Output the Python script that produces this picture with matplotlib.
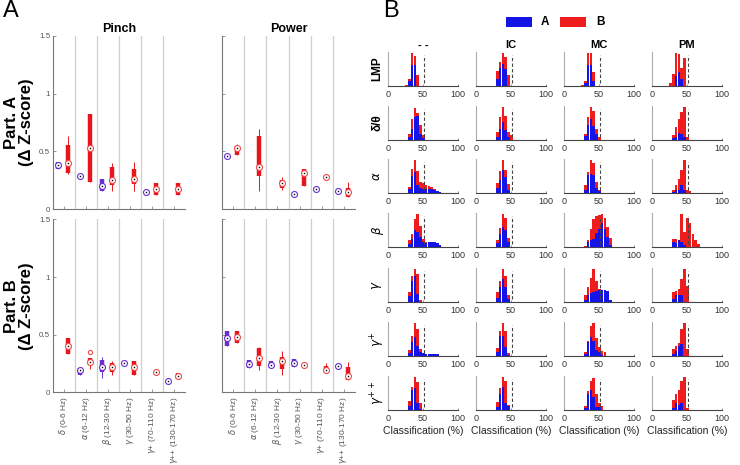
import numpy as np
import matplotlib
matplotlib.use('Agg')
import matplotlib.pyplot as plt
from matplotlib.patches import Rectangle

plt.rcParams['font.family'] = ['Liberation Sans', 'DejaVu Sans']

# ---------------- panel A data: (median, q1, q3, whisker low, whisker high) per band
bands = [r'$\delta$ (0-6 Hz)', r'$\alpha$ (6-12 Hz)', r'$\beta$ (12-30 Hz)',
         r'$\gamma$ (30-50 Hz)', r'$\gamma$+ (70-110 Hz)', r'$\gamma$++ (130-170 Hz)']

pinch_partA_A = [(0.378, 0.35, 0.41, 0.35, 0.41),
                 (0.29, 0.29, 0.29, 0.29, 0.29),
                 (0.196, 0.16, 0.26, 0.16, 0.26),
                 None,
                 (0.144, 0.144, 0.144, 0.144, 0.144),
                 None]
pinch_partA_B = [(0.40, 0.31, 0.557, 0.30, 0.635),
                 (0.53, 0.234, 0.825, 0.234, 0.825),
                 (0.25, 0.205, 0.36, 0.16, 0.40),
                 (0.262, 0.216, 0.346, 0.153, 0.407),
                 (0.173, 0.118, 0.225, 0.118, 0.225),
                 (0.173, 0.124, 0.225, 0.124, 0.225)]
power_partA_A = [(0.456, 0.456, 0.456, 0.456, 0.456),
                 None,
                 None,
                 (0.13, 0.13, 0.13, 0.13, 0.13),
                 (0.176, 0.176, 0.176, 0.176, 0.176),
                 (0.16, 0.16, 0.16, 0.16, 0.16)]
power_partA_B = [(0.525, 0.465, 0.55, 0.465, 0.56),
                 (0.366, 0.29, 0.635, 0.16, 0.69),
                 (0.222, 0.179, 0.254, 0.167, 0.277),
                 (0.314, 0.20, 0.346, 0.20, 0.346),
                 (0.28, 0.28, 0.28, 0.28, 0.28),
                 (0.147, 0.104, 0.18, 0.104, 0.237)]
pinch_partB_A = [None,
                 (0.187, 0.149, 0.213, 0.149, 0.213),
                 (0.216, 0.17, 0.279, 0.12, 0.307),
                 (0.256, 0.256, 0.256, 0.256, 0.256),
                 None,
                 (0.10, 0.10, 0.10, 0.10, 0.10)]
pinch_partB_B = [(0.40, 0.33, 0.466, 0.33, 0.466),
                 (0.259, 0.236, 0.293, 0.198, 0.30),
                 (0.216, 0.178, 0.256, 0.149, 0.273),
                 (0.216, 0.152, 0.273, 0.152, 0.273),
                 (0.172, 0.172, 0.172, 0.172, 0.172),
                 (0.141, 0.112, 0.164, 0.112, 0.164)]
pinch_partB_B_outliers = {1: [0.345]}
power_partB_A = [(0.466, 0.40, 0.53, 0.40, 0.53),
                 (0.241, 0.21, 0.279, 0.21, 0.279),
                 (0.236, 0.21, 0.27, 0.21, 0.27),
                 (0.256, 0.221, 0.29, 0.221, 0.29),
                 None,
                 (0.23, 0.23, 0.23, 0.23, 0.23)]
power_partB_B = [(0.477, 0.43, 0.53, 0.43, 0.53),
                 (0.299, 0.227, 0.385, 0.187, 0.394),
                 (0.27, 0.198, 0.307, 0.149, 0.356),
                 (0.236, 0.236, 0.236, 0.236, 0.236),
                 (0.187, 0.17, 0.227, 0.17, 0.25),
                 (0.135, 0.106, 0.221, 0.106, 0.259)]

# ---------------- panel B data: histogram heights (% of tallest) per bin, one list per column
bin_centers = [26.5, 30.5, 34.5, 38.5, 42.5, 46.5, 50.5, 54.5, 58.5, 62.5, 66.5, 70.5, 74.5, 78.5]
columns = ['- -', 'IC', 'MC', 'PM']
row_labels = ['LMP', '\u03b4/\u03b8', r'$\alpha$', r'$\beta$', r'$\gamma$', r'$\gamma^{+}$', r'$\gamma^{++}$']

lmp_A = [[0, 15, 64, 64, 0], [0, 20, 54, 66, 50, 0], [0, 9, 64, 62, 15], [0, 0, 30, 42, 20, 0]]
lmp_B = [[3, 20, 100, 90, 32], [0, 45, 71, 100, 88, 32], [4, 14, 100, 100, 42], [8, 35, 100, 97, 55, 85]]
delta_A = [[0, 8, 34, 70, 72, 19, 5], [0, 10, 34, 53, 29, 10], [0, 12, 44, 63, 41, 19], [0, 5, 8, 20, 17, 10]]
delta_B = [[0, 19, 63, 97, 80, 44, 14], [0, 24, 68, 98, 73, 24, 14], [0, 17, 68, 99, 87, 34, 10], [0, 15, 40, 62, 85, 100, 10]]
alpha_A = [[0, 12, 50, 63, 24, 14, 12, 12, 12, 12, 10, 6, 3], [0, 15, 39, 68, 49, 10],
           [0, 8, 55, 58, 53, 15, 7], [0, 3, 10, 10, 24, 10]]
alpha_B = [[0, 18, 73, 100, 66, 34, 29, 24, 21, 18, 12], [0, 29, 66, 99, 70, 26],
           [0, 24, 63, 100, 89, 34, 10], [0, 8, 24, 41, 68, 100, 10, 5]]
beta_A = [[0, 10, 25, 50, 45, 30, 15, 13, 14, 15, 15, 12, 5], [0, 12, 39, 61, 51, 15],
          [0, 0, 15, 20, 25, 42, 55, 72, 55, 30, 5], [0, 15, 12, 20, 15, 5]]
beta_B = [[0, 20, 38, 83, 100, 62, 24, 15], [0, 22, 57, 100, 88, 27],
          [0, 3, 22, 55, 85, 93, 95, 100, 88, 60, 27], [0, 24, 24, 22, 98, 45, 86, 72, 40, 20, 8]]
gamma_A = [[0, 17, 64, 78, 25], [0, 12, 44, 68, 44, 8],
           [0, 7, 20, 26, 29, 34, 36, 36, 36, 34, 6], [0, 10, 22, 22, 20]]
gamma_B = [[0, 29, 78, 100, 83, 7], [0, 29, 63, 98, 78, 22],
           [0, 20, 44, 72, 100, 64, 38], [0, 29, 34, 39, 68, 98, 49]]
gplus_A = [[0, 8, 42, 56, 29, 13, 8, 6, 6, 6, 6, 6], [0, 13, 61, 61, 27, 3],
           [0, 5, 42, 58, 45, 17, 13, 3], [0, 5, 15, 30, 35]]
gplus_B = [[0, 19, 61, 100, 81, 22], [0, 25, 74, 98, 74, 8],
           [0, 13, 45, 90, 98, 54, 27, 16, 13], [0, 22, 30, 40, 80, 100, 22]]
gpp_A = [[0, 12, 61, 67, 22, 2], [0, 10, 47, 69, 20, 12],
         [0, 5, 49, 61, 39, 10, 8], [0, 5, 20, 15, 20]]
gpp_B = [[0, 27, 69, 100, 83, 22], [0, 25, 67, 98, 86, 15],
         [0, 12, 57, 88, 96, 49, 20, 12], [0, 31, 49, 60, 86, 100, 5]]

hist_A = [lmp_A, delta_A, alpha_A, beta_A, gamma_A, gplus_A, gpp_A]
hist_B = [lmp_B, delta_B, alpha_B, beta_B, gamma_B, gplus_B, gpp_B]
chance = 52

purple = '#6a2fd0'
red = '#e8161c'
red_edge = '#f04a4a'
blue = '#1414e6'
hred = '#ee1c1c'

W, H = 740, 465
fig = plt.figure(figsize=(7.4, 4.65), dpi=100)


def px_axes(x0, y0, x1, y1):
    return fig.add_axes([x0 / W, 1 - y1 / H, (x1 - x0) / W, (y1 - y0) / H])


def draw_group(ax, stats, offset, color, edge, outliers=None):
    for i, s in enumerate(stats):
        if s is None:
            continue
        x = i + 1 + offset
        med, q1, q3, lo, hi = s
        if hi > lo:
            ax.plot([x, x], [lo, hi], color=color, lw=0.7, solid_capstyle='butt', zorder=2)
        if q3 > q1:
            ax.plot([x, x], [q1, q3], color=color, lw=3.2, solid_capstyle='butt', zorder=3)
        ax.plot(x, med, 'o', ms=4.3, mfc='white', mec=edge, mew=0.8, zorder=4)
        ax.plot(x, med, 'o', ms=1.1, color='black', mew=0, zorder=5)
    if outliers:
        for i, vals in outliers.items():
            ax.plot([i + 1 + offset] * len(vals), vals, 'o', ms=3, mfc='white',
                    mec=edge, mew=0.8, zorder=4)


def setup_box_axes(ax, ylabels, xlabels):
    ax.set_xlim(0.5, len(bands) + 0.5)
    ax.set_ylim(0, 1.5)
    for b in np.arange(1.5, len(bands)):
        ax.axvline(b, color='#cfcfcf', lw=0.9, zorder=1)
    for s in ['top', 'right']:
        ax.spines[s].set_visible(False)
    for s in ['left', 'bottom']:
        ax.spines[s].set_color('#777777')
        ax.spines[s].set_linewidth(0.8)
    ax.set_yticks([0, 0.5, 1, 1.5])
    ax.set_yticklabels(['0', '0.5', '1', '1.5'] if ylabels else [])
    ax.set_xticks(range(1, len(bands) + 1))
    ax.set_xticklabels(bands if xlabels else [], rotation=90)
    ax.tick_params(direction='in', length=2, width=0.6, color='#888888',
                   labelsize=5.8, labelcolor='#555555', pad=2)
    ax.tick_params(axis='x', labelsize=6.0, pad=3)


# ---------------- panel A
boxes = [
    ((53, 36, 185, 209), pinch_partA_A, pinch_partA_B, None, True, False),
    ((222, 36, 355, 209), power_partA_A, power_partA_B, None, False, False),
    ((53, 219.5, 185, 392), pinch_partB_A, pinch_partB_B, pinch_partB_B_outliers, True, True),
    ((222, 219.5, 355, 392), power_partB_A, power_partB_B, None, False, True),
]
for rect, sa, sb, outl, ylab, xlab in boxes:
    ax = px_axes(*rect)
    setup_box_axes(ax, ylab, xlab)
    draw_group(ax, sa, -0.27, purple, purple)
    draw_group(ax, sb, 0.19, red, red_edge, outl)
    if rect[1] < 100:
        ax.set_title('Pinch' if ylab else 'Power', fontsize=9, fontweight='bold', pad=3)

fig.text(19 / W, 1 - 122.5 / H, 'Part. A\n(\u0394 Z-score)', rotation=90, ha='center', va='center',
         fontsize=12, fontweight='bold', linespacing=1.0)
fig.text(19 / W, 1 - 305.7 / H, 'Part. B\n(\u0394 Z-score)', rotation=90, ha='center', va='center',
         fontsize=12, fontweight='bold', linespacing=1.0)

fig.text(3 / W, 1 - 0 / H, 'A', fontsize=17, va='top', ha='left')
fig.text(383 / W, 1 - 0 / H, 'B', fontsize=17, va='top', ha='left')

# ---------------- panel B
col_lefts = [388, 476, 564, 652]
row_tops = [52, 106, 159, 213, 268, 322, 376]
for r, top in enumerate(row_tops):
    for c, left in enumerate(col_lefts):
        ax = px_axes(left, top, left + 70, top + 34)
        hb = hist_B[r][c]
        ha = hist_A[r][c]
        ax.bar(bin_centers[:len(hb)], hb, width=3.8, color=hred, lw=0, zorder=2)
        ax.bar(bin_centers[:len(ha)], ha, width=3.8, color=blue, lw=0, zorder=3)
        ax.axvline(chance, ymin=0.08, ymax=0.9, color='#444444', lw=0.8, dashes=(3, 2), zorder=4)
        ax.set_xlim(0, 100)
        ax.set_ylim(0, 102)
        ax.set_yticks([])
        ax.set_xticks([0, 50, 100])
        ax.tick_params(axis='x', direction='in', length=1.5, width=0.5, color='#666666',
                       labelsize=6.5, labelcolor='#333333', pad=3)
        for s in ['top', 'right']:
            ax.spines[s].set_visible(False)
        ax.spines['left'].set_color('#aaaaaa')
        ax.spines['bottom'].set_color('#444444')
        ax.spines['left'].set_linewidth(0.8)
        ax.spines['bottom'].set_linewidth(0.8)
        if r == 0:
            ax.set_title(columns[c], fontsize=8, fontweight='bold', pad=3)
        if c == 0:
            ax.text(-0.15, 0.5, row_labels[r], rotation=90, ha='center', va='center',
                    fontsize=8.5, fontweight='bold', transform=ax.transAxes)
        if r == len(row_tops) - 1:
            ax.set_xlabel('Classification (%)', fontsize=7.5, labelpad=2, color='#222222')

# legend
fig.add_artist(Rectangle((506 / W, 1 - 27 / H), 26 / W, 10 / H, transform=fig.transFigure,
                         color=blue, lw=0))
fig.text(541 / W, 1 - 22 / H, 'A', fontsize=8.5, fontweight='bold', va='center', ha='left')
fig.add_artist(Rectangle((560 / W, 1 - 27 / H), 26 / W, 10 / H, transform=fig.transFigure,
                         color=hred, lw=0))
fig.text(596 / W, 1 - 22 / H, 'B', fontsize=8.5, fontweight='bold', va='center', ha='left')

fig.savefig('out.png', dpi=100)
